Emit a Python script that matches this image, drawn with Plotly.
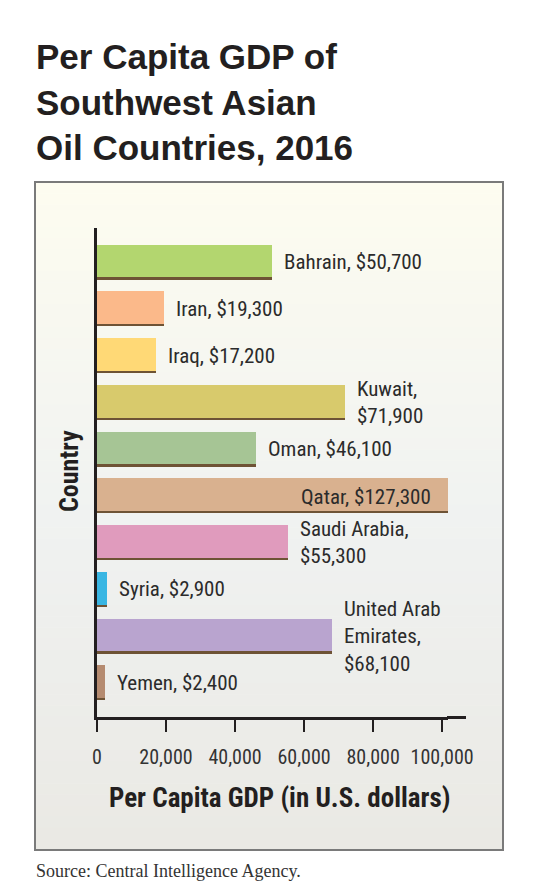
import plotly.graph_objects as go

W, H = 535, 884

countries = ['Bahrain', 'Iran', 'Iraq', 'Kuwait', 'Oman', 'Qatar',
             'Saudi Arabia', 'Syria', 'United Arab Emirates', 'Yemen']
gdp = [50700, 19300, 17200, 71900, 46100, 127300, 55300, 2900, 68100, 2400]
label_text = ['Bahrain, $50,700', 'Iran, $19,300', 'Iraq, $17,200',
              'Kuwait,<br>$71,900', 'Oman, $46,100', 'Qatar, $127,300',
              'Saudi Arabia,<br>$55,300', 'Syria, $2,900',
              'United Arab<br>Emirates,<br>$68,100', 'Yemen, $2,400']
bar_colors = ['#b3d66f', '#fbb98a', '#ffd976', '#d8ca6c', '#a6c595',
              '#d9b18f', '#e09bbd', '#39b6e3', '#b9a4cf', '#b58b70']
x_ticks = [0, 20000, 40000, 60000, 80000, 100000]

NARROW = 'Roboto Condensed, Liberation Sans Narrow, Roboto, sans-serif'

# helpers: pixel -> paper (margins are zero)
def px(x):
    return x / W

def py(y):
    return 1 - y / H

fig = go.Figure()

# dark shadow strip at the bottom of each bar
fig.add_trace(go.Bar(x=gdp, y=countries, orientation='h', width=0.75, offset=-0.375,
                     marker=dict(color='#6e5335', line=dict(width=0)),
                     hoverinfo='skip', showlegend=False))
fig.add_trace(go.Bar(x=gdp, y=countries, orientation='h', width=0.70, offset=-0.375,
                     marker=dict(color=bar_colors, line=dict(width=0)),
                     showlegend=False))

# value labels
annos = []
for c, v, t in zip(countries, gdp, label_text):
    if v > 100000:
        # bar runs past the axis, label sits inside the bar end
        annos.append(dict(x=1, xref='x domain', y=c, yref='y', text=t, showarrow=False,
                          xanchor='right', yanchor='middle', xshift=-15, yshift=-1,
                          font=dict(family=NARROW, size=21, color='#2b2b2b')))
    else:
        annos.append(dict(x=v, xref='x', y=c, yref='y', text=t, showarrow=False,
                          xanchor='left', yanchor='middle', xshift=10, align='left',
                          font=dict(family=NARROW, size=21, color='#2b2b2b')))

# title, axis titles, source
annos.append(dict(x=px(34), y=py(35), xref='paper', yref='paper', xanchor='left', yanchor='top',
                  align='left', showarrow=False,
                  text='<b>Per Capita GDP of<br>Southwest Asian<br>Oil Countries, 2016</b>',
                  font=dict(family='Liberation Sans, Arial, sans-serif', size=35, color='#231f20')))
annos.append(dict(x=px(69), y=py(471), xref='paper', yref='paper', textangle=-90,
                  xanchor='center', yanchor='middle', showarrow=False, text='<b>Country</b>',
                  font=dict(family=NARROW, size=26, color='#231f20')))
annos.append(dict(x=px(279), y=py(798), xref='paper', yref='paper', showarrow=False,
                  xanchor='center', yanchor='middle',
                  text='<b>Per Capita GDP (in U.S. dollars)</b>',
                  font=dict(family=NARROW, size=27, color='#231f20')))
annos.append(dict(x=px(34), y=py(871), xref='paper', yref='paper', xanchor='left',
                  yanchor='middle', showarrow=False, text='Source: Central Intelligence Agency.',
                  font=dict(family='Liberation Serif, Times New Roman, serif', size=18, color='#333333')))

# background panel: vertical gradient made from thin stripes
shapes = []
top_c = (253, 252, 240)
mid_c = (240, 242, 241)
bot_c = (234, 233, 228)
y_top, y_bot = 182, 850
n = 60
for i in range(n):
    f = i / (n - 1)
    if f < 0.5:
        a, b, g = top_c, mid_c, f / 0.5
    else:
        a, b, g = mid_c, bot_c, (f - 0.5) / 0.5
    col = 'rgb(%d,%d,%d)' % tuple(round(a[k] + (b[k] - a[k]) * g) for k in range(3))
    y0 = y_top + (y_bot - y_top) * i / n
    y1 = y_top + (y_bot - y_top) * (i + 1) / n + 0.5
    shapes.append(dict(type='rect', xref='paper', yref='paper', layer='below',
                       x0=px(35), x1=px(503), y0=py(y1), y1=py(y0),
                       fillcolor=col, line=dict(width=0)))
shapes.append(dict(type='rect', xref='paper', yref='paper', layer='below',
                   x0=px(35), x1=px(503), y0=py(y_bot), y1=py(y_top),
                   line=dict(color='#7a7a7a', width=2)))
# x axis line continues a little past the cut-off bar
shapes.append(dict(type='line', xref='paper', yref='paper',
                   x0=px(447), x1=px(466), y0=py(717.5), y1=py(717.5),
                   line=dict(color='#231f20', width=3)))

fig.update_layout(
    width=W, height=H,
    margin=dict(l=0, r=0, t=0, b=0, autoexpand=False),
    paper_bgcolor='white', plot_bgcolor='rgba(0,0,0,0)',
    barmode='overlay', bargap=0,
    annotations=annos, shapes=shapes,
    xaxis=dict(domain=[px(97), px(448)], range=[0, 101700], automargin=False,
               tickvals=x_ticks, tickformat=',d', tickangle=0,
               showgrid=False, zeroline=False,
               showline=True, linecolor='#231f20', linewidth=3,
               ticks='outside', ticklen=12, tickwidth=1.5, tickcolor='#231f20',
               ticklabelstandoff=8,
               tickfont=dict(family=NARROW, size=20, color='#333333'),
               fixedrange=True),
    yaxis=dict(domain=[py(717), py(228)], range=[9.73, -0.73], automargin=False,
               showticklabels=False, ticks='', showgrid=False, zeroline=False,
               showline=True, linecolor='#231f20', linewidth=3,
               fixedrange=True),
)

fig.write_html("out.html", config={'displayModeBar': False},
               post_script="document.body.style.margin='0';")
